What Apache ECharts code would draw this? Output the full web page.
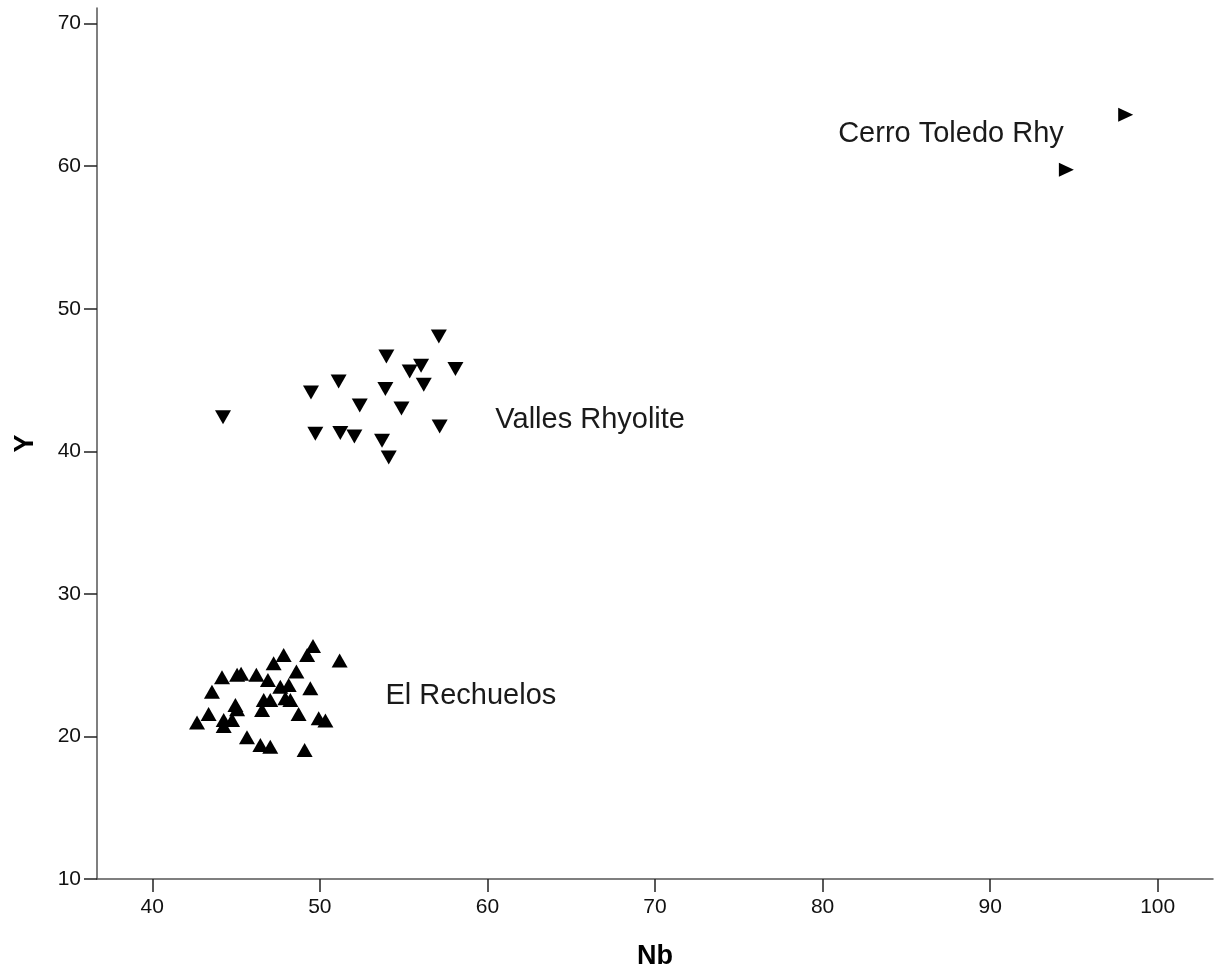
<!DOCTYPE html>
<html>
<head>
<meta charset="utf-8">
<script src="https://cdn.jsdelivr.net/npm/echarts@6/dist/echarts.min.js"></script>
<style>
  html, body { margin: 0; padding: 0; background: #fff; }
  #chart { width: 1217px; height: 973px; }
</style>
</head>
<body>
<div id="chart"></div>
<script>
// El Rechuelos (up triangles)
var rechNb = [42.67, 43.36, 43.56, 44.16, 44.26, 44.26, 44.76, 44.96, 45.06, 45.06, 45.3, 46.21, 46.9, 45.65, 46.45, 47.04, 46.65, 46.55, 47.04, 47.24, 47.84, 47.64, 48.14, 47.94, 48.24, 48.6, 48.73, 49.24, 49.59, 49.09, 49.43, 49.93, 50.33, 51.18];
var rechY = [20.97, 21.58, 23.14, 24.15, 21.16, 20.73, 21.16, 22.21, 21.91, 24.32, 24.39, 24.32, 23.96, 19.94, 19.40, 19.28, 22.56, 21.86, 22.56, 25.14, 25.72, 23.49, 23.61, 22.68, 22.56, 24.55, 21.58, 25.72, 26.35, 19.05, 23.38, 21.28, 21.11, 25.32];

// Valles Rhyolite (down triangles)
var vallesNb = [44.22, 49.47, 51.12, 49.73, 51.22, 52.06, 52.38, 53.97, 53.91, 53.71, 54.11, 54.87, 55.36, 56.04, 56.2, 57.1, 58.09, 57.15];
var vallesY = [42.40, 44.13, 44.90, 41.23, 41.28, 41.04, 43.22, 46.65, 44.37, 40.74, 39.56, 43.0, 45.60, 46.0, 44.67, 48.06, 45.77, 41.74];

// Cerro Toledo Rhy (right triangles)
var cerroNb = [98.09, 94.55];
var cerroY = [63.62, 59.75];

// group labels: [Nb, Y, text]
var groupLabels = [
  [80.93, 62.28, 'Cerro Toledo Rhy'],
  [60.47, 42.23, 'Valles Rhyolite'],
  [53.91, 22.82, 'El Rechuelos']
];

var xTicks = [40, 50, 60, 70, 80, 90, 100];
var yTicks = [10, 20, 30, 40, 50, 60, 70];

function pairs(xs, ys) {
  var out = [];
  for (var i = 0; i < xs.length; i++) {
    out.push([xs[i], ys[i]]);
  }
  return out;
}

var font = "'Liberation Sans', Arial, sans-serif";
var myChart = echarts.init(document.getElementById('chart'));

myChart.setOption({
  animation: false,
  backgroundColor: '#fff',
  grid: {
    left: 97,
    right: 4,
    top: 8,
    bottom: 94,
    containLabel: false,
    outerBoundsMode: 'none'
  },
  xAxis: {
    type: 'value',
    min: 36.7,
    max: 103.3,
    name: 'Nb',
    nameLocation: 'middle',
    nameGap: 64,
    nameTextStyle: { fontFamily: font, fontSize: 27, fontWeight: 'bold', color: '#000' },
    axisLine: { show: true, lineStyle: { color: '#555', width: 1.5 } },
    axisTick: { show: true, length: 13, customValues: xTicks, lineStyle: { color: '#222', width: 1.5 } },
    axisLabel: { customValues: xTicks, fontFamily: font, fontSize: 21, color: '#111', margin: 18 },
    splitLine: { show: false }
  },
  yAxis: {
    type: 'value',
    min: 10,
    max: 71.1,
    name: 'Y',
    nameLocation: 'middle',
    nameGap: 58,
    nameTextStyle: { fontFamily: font, fontSize: 27, fontWeight: 'bold', color: '#000' },
    axisLine: { show: true, lineStyle: { color: '#555', width: 1.5 } },
    axisTick: { show: true, length: 13, customValues: yTicks, lineStyle: { color: '#222', width: 1.5 } },
    axisLabel: { customValues: yTicks, fontFamily: font, fontSize: 21, color: '#111', margin: 16 },
    splitLine: { show: false }
  },
  series: [
    {
      name: 'El Rechuelos',
      type: 'scatter',
      symbol: 'triangle',
      symbolSize: [16, 14],
      itemStyle: { color: '#000', opacity: 1 },
      data: pairs(rechNb, rechY)
    },
    {
      name: 'Valles Rhyolite',
      type: 'scatter',
      symbol: 'triangle',
      symbolRotate: 180,
      symbolSize: [16, 14],
      itemStyle: { color: '#000', opacity: 1 },
      data: pairs(vallesNb, vallesY)
    },
    {
      name: 'Cerro Toledo Rhy',
      type: 'scatter',
      symbol: 'triangle',
      symbolRotate: -90,
      symbolSize: [14, 15],
      itemStyle: { color: '#000', opacity: 1 },
      data: pairs(cerroNb, cerroY)
    },
    {
      // text labels beside each group
      type: 'scatter',
      symbolSize: 0,
      silent: true,
      itemStyle: { opacity: 1 },
      label: {
        show: true,
        position: 'right',
        distance: 0,
        fontFamily: font,
        fontSize: 29,
        color: '#1a1a1a',
        formatter: function (p) { return p.data[2]; }
      },
      data: groupLabels
    }
  ]
});
</script>
</body>
</html>
